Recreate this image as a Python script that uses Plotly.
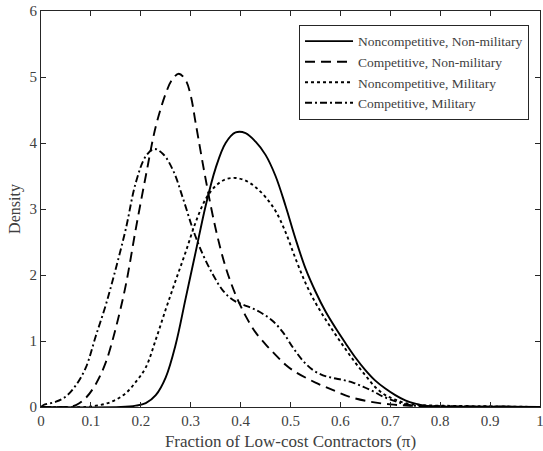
import plotly.graph_objects as go

# Noncompetitive, Non-military (solid)
x_nc_nm = [0.0, 0.16, 0.19, 0.21, 0.23, 0.25, 0.27, 0.29, 0.31, 0.33, 0.35, 0.37, 0.39, 0.41,
           0.43, 0.45, 0.47, 0.49, 0.51, 0.53, 0.55, 0.57, 0.59, 0.61, 0.63, 0.65, 0.67,
           0.69, 0.71, 0.73, 0.75, 0.77, 0.80, 0.90, 1.0]
y_nc_nm = [0.0, 0.0, 0.02, 0.06, 0.18, 0.45, 0.95, 1.65, 2.35, 3.05, 3.62, 4.0, 4.16, 4.15,
           4.02, 3.82, 3.5, 3.05, 2.55, 2.1, 1.75, 1.45, 1.2, 0.97, 0.75, 0.56, 0.4,
           0.28, 0.18, 0.1, 0.05, 0.02, 0.01, 0.005, 0.0]

# Competitive, Non-military (dashed)
x_c_nm = [0.0, 0.05, 0.07, 0.09, 0.11, 0.13, 0.15, 0.17, 0.19, 0.21, 0.23, 0.25, 0.262,
          0.276, 0.29, 0.30, 0.31, 0.33, 0.35, 0.37, 0.39, 0.41, 0.43, 0.45, 0.47, 0.49,
          0.51, 0.55, 0.59, 0.62, 0.66, 0.70, 0.74, 0.80, 0.90, 1.0]
y_c_nm = [0.0, 0.0, 0.03, 0.14, 0.35, 0.68, 1.2, 1.85, 2.7, 3.5, 4.25, 4.75, 4.95,
          5.05, 4.95, 4.72, 4.3, 3.45, 2.7, 2.12, 1.7, 1.38, 1.13, 0.95, 0.79, 0.64,
          0.53, 0.37, 0.24, 0.15, 0.08, 0.04, 0.02, 0.01, 0.005, 0.0]

# Noncompetitive, Military (dotted)
x_nc_m = [0.0, 0.09, 0.11, 0.13, 0.15, 0.17, 0.19, 0.21, 0.23, 0.25, 0.27, 0.29, 0.31, 0.33,
          0.35, 0.37, 0.39, 0.41, 0.43, 0.45, 0.47, 0.49, 0.51, 0.53, 0.55, 0.57, 0.59,
          0.61, 0.63, 0.65, 0.67, 0.69, 0.71, 0.73, 0.76, 0.80, 0.85, 0.90, 0.95, 1.0]
y_nc_m = [0.0, 0.0, 0.02, 0.05, 0.11, 0.21, 0.38, 0.6, 1.02, 1.48, 1.92, 2.35, 2.8, 3.15,
          3.35, 3.45, 3.47, 3.43, 3.33, 3.18, 2.97, 2.65, 2.25, 1.88, 1.58, 1.33, 1.1,
          0.88, 0.67, 0.48, 0.3, 0.18, 0.11, 0.06, 0.03, 0.02, 0.015, 0.01, 0.005, 0.0]

# Competitive, Military (dash-dot)
x_c_m = [0.0, 0.005, 0.03, 0.05, 0.07, 0.09, 0.11, 0.13, 0.15, 0.17, 0.19, 0.21, 0.227,
         0.245, 0.265, 0.285, 0.305, 0.325, 0.345, 0.365, 0.385, 0.405, 0.425, 0.445,
         0.465, 0.485, 0.505, 0.525, 0.545, 0.565, 0.585, 0.605, 0.625, 0.645, 0.665,
         0.685, 0.705, 0.725, 0.75, 0.80, 0.90, 1.0]
y_c_m = [0.0, 0.03, 0.08, 0.16, 0.33, 0.6, 1.08, 1.55, 2.1, 2.7, 3.4, 3.8, 3.91,
         3.83, 3.58, 3.15, 2.68, 2.3, 2.0, 1.76, 1.62, 1.55, 1.49, 1.41,
         1.3, 1.13, 0.9, 0.7, 0.56, 0.48, 0.44, 0.41, 0.37, 0.31, 0.24,
         0.16, 0.1, 0.05, 0.02, 0.01, 0.005, 0.0]

x_ticks = [0, 0.1, 0.2, 0.3, 0.4, 0.5, 0.6, 0.7, 0.8, 0.9, 1]
x_tick_labels = ["0", "0.1", "0.2", "0.3", "0.4", "0.5", "0.6", "0.7", "0.8", "0.9", "1"]
y_ticks = [0, 1, 2, 3, 4, 5, 6]
y_tick_labels = ["0", "1", "2", "3", "4", "5", "6"]

names = ["Noncompetitive, Non-military", "Competitive, Non-military",
         "Noncompetitive, Military", "Competitive, Military"]

FONT = "Liberation Serif, Times New Roman, serif"
TXT = "#404040"
AX = "#262626"

fig = go.Figure()
series = [
    (x_nc_nm, y_nc_nm, names[0], "solid", 1.9),
    (x_c_nm, y_c_nm, names[1], "10px,6px", 1.9),
    (x_nc_m, y_nc_m, names[2], "dot", 1.9),
    (x_c_m, y_c_m, names[3], "7px,3px,2px,3px", 1.9),
]
for xs, ys, nm, dash, w in series:
    fig.add_trace(go.Scatter(x=xs, y=ys, name=nm, mode="lines",
                             line=dict(color="black", width=w, dash=dash,
                                       shape="spline", smoothing=1.0)))

axis_common = dict(showline=True, linecolor=AX, linewidth=1, mirror="allticks",
                   ticks="inside", ticklen=5, tickcolor=AX, tickwidth=1,
                   showgrid=False, zeroline=False, automargin=False,
                   tickfont=dict(family=FONT, size=15, color=TXT))

fig.update_xaxes(range=[0, 1], tickvals=x_ticks, ticktext=x_tick_labels,
                 ticklabeloverflow="allow",
                 title=dict(text="Fraction of Low-cost Contractors (π)",
                            font=dict(family=FONT, size=17, color=TXT), standoff=10),
                 **axis_common)
fig.update_yaxes(range=[0, 6], tickvals=y_ticks, ticktext=y_tick_labels,
                 title=dict(text="Density", font=dict(family=FONT, size=16, color=TXT), standoff=4),
                 **axis_common)

fig.update_layout(
    width=543, height=451,
    margin=dict(l=41, r=3, t=11, b=44),
    paper_bgcolor="white", plot_bgcolor="white",
    showlegend=True,
    legend=dict(x=0.978, y=0.965, xanchor="right", yanchor="top",
                bgcolor="white", bordercolor=AX, borderwidth=1,
                font=dict(family=FONT, size=13.5, color=TXT),
                tracegroupgap=0, itemwidth=48),
)

fig.write_html("out.html")
